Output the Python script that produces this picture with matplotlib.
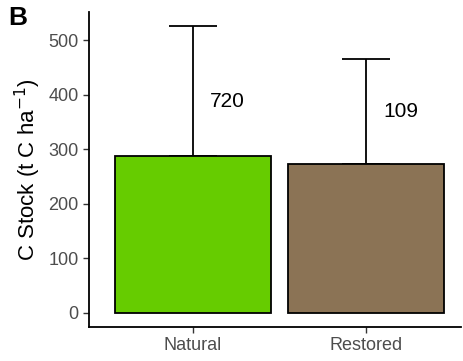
import matplotlib.pyplot as plt
import numpy as np

# carbon stock per site type (t C / ha)
groups = ["Natural", "Restored"]
means = [287, 273]
upper_err = [239, 192]
n_labels = ["720", "109"]
colors = ["#66cc00", "#8b7355"]

plt.rcParams["font.family"] = ["Liberation Sans", "DejaVu Sans"]

fig = plt.figure(figsize=(4.63, 3.61), dpi=100)
ax = fig.add_axes([89 / 463, 34 / 361, 372 / 463, 315 / 361])

x = np.arange(1, len(groups) + 1)
ax.bar(x, means, width=0.9, color=colors, edgecolor="black", linewidth=1.3, zorder=2)
ax.errorbar(x, means, yerr=[np.zeros(len(means)), upper_err], fmt="none",
            ecolor="black", elinewidth=1.3, capsize=17.5, capthick=1.3, zorder=1)

# sample sizes sit beside the error bar, around its middle
label_frac = [0.42, 0.50]
for xi, m, e, f, lab in zip(x, means, upper_err, label_frac, n_labels):
    ax.text(xi + 0.10, m + e * f, lab, ha="left", va="center", fontsize=15)

ax.set_xlim(0.4, 2.55)
ax.set_ylim(-26.3, 551.9)
ax.set_xticks(x)
ax.set_xticklabels(groups)
ax.set_yticks(range(0, 501, 100))
ax.tick_params(axis="both", labelsize=13, labelcolor="#4d4d4d", color="#333333",
               length=4, width=1)
ax.set_ylabel("C Stock (t C ha$^{-1}$)", fontsize=16)

for side in ("top", "right"):
    ax.spines[side].set_visible(False)
for side in ("left", "bottom"):
    ax.spines[side].set_linewidth(1.3)
    ax.spines[side].set_color("black")

fig.text(8 / 463, 1 - 18 / 361, "B", fontsize=19, fontweight="bold", va="center")

fig.savefig("out.png", dpi=100)
